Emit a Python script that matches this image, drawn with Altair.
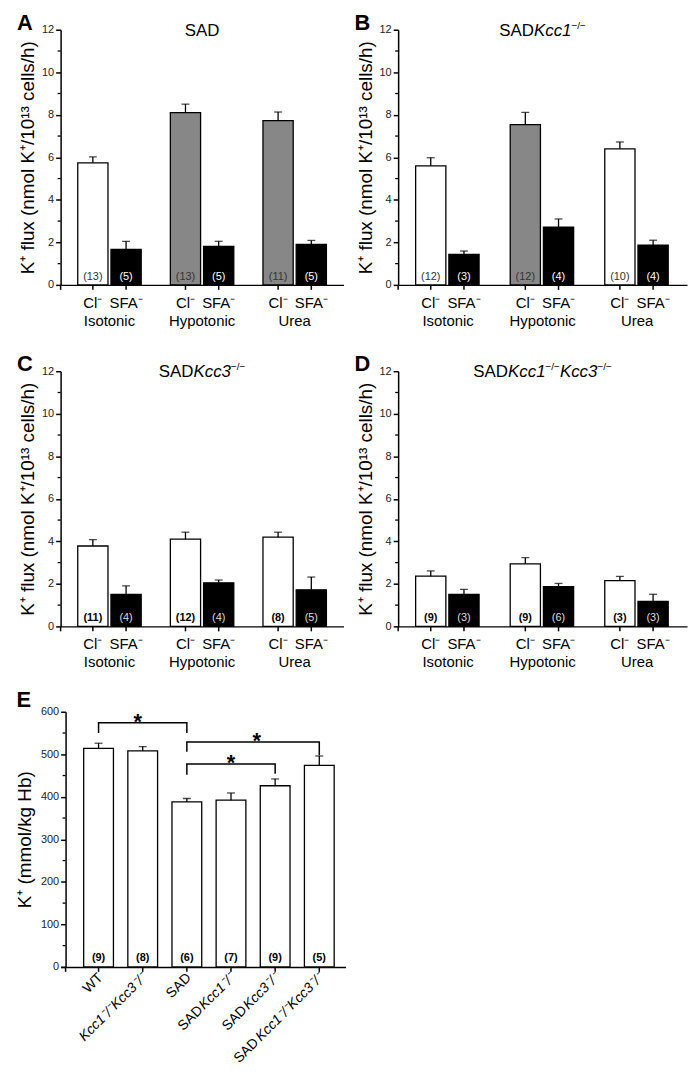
import altair as alt
import pandas as pd

FONT = "Liberation Sans"

# ---------------- data ----------------
groups = ["Isotonic", "Hypotonic", "Urea"]
anions = ["Cl⁻", "SFA⁻"]

# Panel A: SAD
a_cl = [5.74, 8.10, 7.73]
a_cl_err = [0.28, 0.40, 0.40]
a_sfa = [1.67, 1.81, 1.90]
a_sfa_err = [0.38, 0.24, 0.19]
a_cl_n = [13, 13, 11]
a_sfa_n = [5, 5, 5]
a_cl_fill = ["#ffffff", "#878787", "#878787"]

# Panel B: SADKcc1-/-
b_cl = [5.60, 7.54, 6.40]
b_cl_err = [0.38, 0.57, 0.32]
b_sfa = [1.43, 2.72, 1.87]
b_sfa_err = [0.16, 0.38, 0.23]
b_cl_n = [12, 12, 10]
b_sfa_n = [3, 4, 4]
b_cl_fill = ["#ffffff", "#878787", "#ffffff"]

# Panel C: SADKcc3-/-
c_cl = [3.78, 4.10, 4.20]
c_cl_err = [0.30, 0.33, 0.23]
c_sfa = [1.51, 2.05, 1.72]
c_sfa_err = [0.40, 0.13, 0.60]
c_cl_n = [11, 12, 8]
c_sfa_n = [4, 4, 5]
c_cl_fill = ["#ffffff", "#ffffff", "#ffffff"]

# Panel D: SADKcc1-/-Kcc3-/-
d_cl = [2.36, 2.94, 2.15]
d_cl_err = [0.25, 0.29, 0.20]
d_sfa = [1.51, 1.87, 1.17]
d_sfa_err = [0.23, 0.15, 0.34]
d_cl_n = [9, 9, 3]
d_sfa_n = [3, 6, 3]
d_cl_fill = ["#ffffff", "#ffffff", "#ffffff"]

# Panel E: K+ content
e_cats = ["WT", "Kcc1-/-Kcc3-/-", "SAD", "SADKcc1-/-", "SADKcc3-/-", "SADKcc1-/-Kcc3-/-"]
e_prefix = ["WT", "", "SAD", "SAD", "SAD", "SAD"]
e_suffix = ["", "Kcc1⁻/⁻Kcc3⁻/⁻", "", "Kcc1⁻/⁻", "Kcc3⁻/⁻", "Kcc1⁻/⁻Kcc3⁻/⁻"]
e_val = [514, 508, 388, 392, 426, 474]
e_err = [12, 10, 8, 17, 16, 22]
e_n = [9, 8, 6, 7, 9, 5]

# significance brackets (panel E)
br_left = ["WT", "SAD", "SAD"]
br_right = ["SAD", "SADKcc1-/-Kcc3-/-", "SADKcc3-/-"]
br_top = [574, 529, 477]
br_left_end = [550, 506, 452]
br_right_end = [550, 498, 454]
star_cat = ["Kcc1-/-Kcc3-/-", "SADKcc1-/-", "SADKcc1-/-"]
star_y = [589, 546, 493]
star_dx = [-5, 26, 0]

FLUX_TITLE = "K⁺ flux (nmol K⁺/10¹³ cells/h)"
E_TITLE = "K⁺ (mmol/kg Hb)"

# ---------------- helpers ----------------
CW = {"S": .667, "A": .667, "D": .722, "K": .667, "c": .5, "1": .556, "3": .556,
      "/": .278, "−": .584, "⁻": .40, "W": .944, "T": .611}


def tw(s, fs):
    return sum(CW.get(ch, .55) for ch in s) * fs


def one(**kw):
    return alt.Chart(pd.DataFrame([kw]))


def yaxis(values, title, pad, offset=0):
    return alt.Axis(values=values, title=title, grid=False, tickSize=5, tickWidth=1.5,
                    tickColor="black", domainWidth=1.5, domainColor="black",
                    labelFontSize=11, labelPadding=2, labelColor="#222", labelFont=FONT,
                    titleFontSize=19, titleFontWeight="normal", titleFont=FONT,
                    titleColor="black", titlePadding=pad, offset=offset)


XAXIS = alt.Axis(labels=False, ticks=False, title=None, domainWidth=1.5, domainColor="black")


def title_layers(parts, W, ty=1, fs=17):
    sizes = []
    for txt, st in parts:
        sizes.append(tw(txt, 10 if st == "s" else fs))
    x0 = W / 2 - sum(sizes) / 2
    out = []
    for (txt, st), w in zip(parts, sizes):
        if st == "s":
            m = one(t=txt).mark_text(fontSize=10, align="left", baseline="middle", font=FONT,
                                      color="black")
            out.append(m.encode(x=alt.value(x0), y=alt.value(ty - 5), text="t:N"))
        else:
            m = one(t=txt).mark_text(fontSize=fs, align="left", baseline="middle", font=FONT,
                                      color="black", fontStyle="italic" if st == "i" else "normal")
            out.append(m.encode(x=alt.value(x0), y=alt.value(ty), text="t:N"))
        x0 += w
    return out


def flux_panel(letter, parts, cl, cl_err, sfa, sfa_err, cl_n, sfa_n, cl_fill, bold_counts, W, H=257):
    rows = []
    for i, g in enumerate(groups):
        rows.append({"group": g, "anion": anions[0], "value": cl[i], "top": cl[i] + cl_err[i],
                     "n": f"({cl_n[i]})", "fill": cl_fill[i]})
        rows.append({"group": g, "anion": anions[1], "value": sfa[i], "top": sfa[i] + sfa_err[i],
                     "n": f"({sfa_n[i]})", "fill": "#000000"})
    df = pd.DataFrame(rows)
    base = alt.Chart(df)
    xs = alt.Scale(domain=groups, paddingInner=0.315, paddingOuter=0.185)
    x = alt.X("group:N", scale=xs, axis=XAXIS)
    xo = alt.XOffset("anion:N", scale=alt.Scale(domain=anions, paddingInner=0.09, paddingOuter=0))
    ys = alt.Scale(domain=[0, 12], nice=False)
    y = alt.Y("value:Q", scale=ys, axis=yaxis([0, 2, 4, 6, 8, 10, 12], FLUX_TITLE, 4))

    bars = base.mark_bar(stroke="black", strokeWidth=1.3).encode(
        x=x, xOffset=xo, y=y, fill=alt.Fill("fill:N", scale=None))
    err = base.mark_rule(color="black", strokeWidth=1.3).encode(
        x=x, xOffset=xo, y=alt.Y("value:Q", title=FLUX_TITLE), y2="top:Q")
    cap = base.mark_tick(color="black", thickness=1.3, size=8, orient="horizontal").encode(
        x=x, xOffset=xo, y=alt.Y("top:Q", title=FLUX_TITLE))
    xt = base.mark_rule(color="black", strokeWidth=1.5).encode(
        x=x, xOffset=xo, y=alt.value(H), y2=alt.value(H + 5))
    origin = one(a=0).mark_rule(color="black", strokeWidth=1.5).encode(
        x=alt.value(0), y=alt.value(H), y2=alt.value(H + 5))
    minor = alt.Chart(pd.DataFrame({"m": [1, 3, 5, 7, 9, 11]})).mark_rule(
        color="black", strokeWidth=1.3).encode(
        y=alt.Y("m:Q", title=FLUX_TITLE), x=alt.value(-3), x2=alt.value(0))

    if bold_counts:
        c1 = base.transform_filter(alt.datum.anion == anions[0]).mark_text(
            fontSize=11, fontWeight="bold", color="black", baseline="middle", font=FONT)
        c2 = base.transform_filter(alt.datum.anion == anions[1]).mark_text(
            fontSize=11, color="#dddddd", baseline="middle", font=FONT)
    else:
        c1 = base.transform_filter(alt.datum.anion == anions[0]).mark_text(
            fontSize=11, color="#333333", baseline="middle", font=FONT)
        c2 = base.transform_filter(alt.datum.anion == anions[1]).mark_text(
            fontSize=11, color="white", baseline="middle", font=FONT)
    c1 = c1.encode(x=x, xOffset=xo, y=alt.value(H - 8), text="n:N")
    c2 = c2.encode(x=x, xOffset=xo, y=alt.value(H - 8), text="n:N")

    alab = base.mark_text(fontSize=15, baseline="middle", font=FONT, color="black").encode(
        x=x, xOffset=xo, y=alt.value(H + 18), text="anion:N")
    glab = alt.Chart(pd.DataFrame({"group": groups})).mark_text(
        fontSize=15, baseline="middle", font=FONT, color="black").encode(
        x=x, y=alt.value(H + 36), text="group:N")
    let = one(t=letter).mark_text(fontSize=22, fontWeight="bold", baseline="middle",
                                  align="center", font=FONT, color="black").encode(
        x=alt.value(-36), y=alt.value(-7), text="t:N")

    layers = [bars, err, cap, xt, origin, minor, c1, c2, alab, glab, let] + title_layers(parts, W)
    return alt.layer(*layers).properties(width=W, height=H)


def e_panel(W=287, H=257):
    AX = 5  # y axis sits a little inside the x axis line, as in the original
    df = pd.DataFrame({"cat": e_cats, "value": e_val,
                       "top": [v + e for v, e in zip(e_val, e_err)],
                       "n": [f"({n})" for n in e_n]})
    base = alt.Chart(df)
    xs = alt.Scale(domain=e_cats, paddingInner=0.326, paddingOuter=0.39, align=0.67)
    x = alt.X("cat:N", scale=xs, axis=XAXIS)
    ys = alt.Scale(domain=[0, 600], nice=False)
    y = alt.Y("value:Q", scale=ys,
              axis=yaxis([0, 100, 200, 300, 400, 500, 600], E_TITLE, 6, offset=-AX))

    bars = base.mark_bar(stroke="black", strokeWidth=1.3, fill="white").encode(x=x, y=y)
    err = base.mark_rule(color="black", strokeWidth=1.3).encode(
        x=x, y=alt.Y("value:Q", title=E_TITLE), y2="top:Q")
    cap = base.mark_tick(color="black", thickness=1.3, size=8, orient="horizontal").encode(
        x=x, y=alt.Y("top:Q", title=E_TITLE))
    xt = base.mark_rule(color="black", strokeWidth=1.5).encode(
        x=x, y=alt.value(H), y2=alt.value(H + 5))
    origin = one(a=0).mark_rule(color="black", strokeWidth=1.5).encode(
        x=alt.value(AX), y=alt.value(H), y2=alt.value(H + 5))
    minor = alt.Chart(pd.DataFrame({"m": [50, 150, 250, 350, 450, 550]})).mark_rule(
        color="black", strokeWidth=1.3).encode(
        y=alt.Y("m:Q", title=E_TITLE), x=alt.value(AX - 3), x2=alt.value(AX))
    counts = base.mark_text(fontSize=11, fontWeight="bold", color="black",
                            baseline="middle", font=FONT).encode(
        x=x, y=alt.value(H - 9), text="n:N")

    brows = []
    for i in range(len(br_left)):
        brows += [{"b": i, "s": 0, "cat": br_left[i], "v": br_left_end[i]},
                  {"b": i, "s": 1, "cat": br_left[i], "v": br_top[i]},
                  {"b": i, "s": 2, "cat": br_right[i], "v": br_top[i]},
                  {"b": i, "s": 3, "cat": br_right[i], "v": br_right_end[i]}]
    brackets = alt.Chart(pd.DataFrame(brows)).mark_line(color="black", strokeWidth=1.5).encode(
        x=x, y=alt.Y("v:Q", title=E_TITLE), detail="b:N", order="s:Q")
    stars = []
    for i in range(len(star_cat)):
        stars.append(one(cat=star_cat[i], v=star_y[i], t="*").mark_text(
            fontSize=22, fontWeight="bold", baseline="middle", color="black", font=FONT,
            dx=star_dx[i], dy=6).encode(x=x, y=alt.Y("v:Q", title=E_TITLE), text="t:N"))

    lab = []
    suf_df = pd.DataFrame({"cat": e_cats, "t": e_suffix})
    suf_df = suf_df[suf_df.t != ""]
    lab.append(alt.Chart(suf_df).mark_text(
        fontSize=14, fontStyle="italic", angle=315, align="right", baseline="middle",
        font=FONT, color="black", dx=3).encode(x=x, y=alt.value(H + 11), text="t:N"))
    for i, cat in enumerate(e_cats):
        if e_prefix[i]:
            w = tw(e_suffix[i], 14)
            lab.append(one(cat=cat, t=e_prefix[i]).mark_text(
                fontSize=14, angle=315, align="right", baseline="middle", font=FONT,
                color="black", dx=3 - w, dy=0).encode(
                x=x, y=alt.value(H + 11), text="t:N"))
    let = one(t="E").mark_text(fontSize=22, fontWeight="bold", baseline="middle",
                               align="center", font=FONT, color="black").encode(
        x=alt.value(-37), y=alt.value(-12), text="t:N")
    layers = [bars, err, cap, xt, origin, minor, counts, brackets] + stars + lab + [let]
    return alt.layer(*layers).properties(width=W, height=H)


pA = flux_panel("A", [("SAD", "n")], a_cl, a_cl_err, a_sfa, a_sfa_err, a_cl_n, a_sfa_n,
                a_cl_fill, False, 285)
pB = flux_panel("B", [("SAD", "n"), ("Kcc1", "i"), ("−/−", "s")], b_cl, b_cl_err, b_sfa,
                b_sfa_err, b_cl_n, b_sfa_n, b_cl_fill, False, 291)
pC = flux_panel("C", [("SAD", "n"), ("Kcc3", "i"), ("−/−", "s")], c_cl, c_cl_err, c_sfa,
                c_sfa_err, c_cl_n, c_sfa_n, c_cl_fill, True, 285)
pD = flux_panel("D", [("SAD", "n"), ("Kcc1", "i"), ("−/−", "s"), ("Kcc3", "i"), ("−/−", "s")],
                d_cl, d_cl_err, d_sfa, d_sfa_err, d_cl_n, d_sfa_n, d_cl_fill, True, 291)
pE = e_panel()

row1 = alt.hconcat(pA, pB, spacing=11)
row2 = alt.hconcat(pC, pD, spacing=11)
top_rows = alt.vconcat(row1, row2, spacing=25)
chart = alt.concat(top_rows, pE, columns=1, align="none", spacing=19).properties(
    padding={"left": 7, "top": 0, "right": 5, "bottom": 5}
).configure(font=FONT).configure_view(stroke=None)

chart.save("out.html", embed_options={"renderer": "svg", "actions": False})
